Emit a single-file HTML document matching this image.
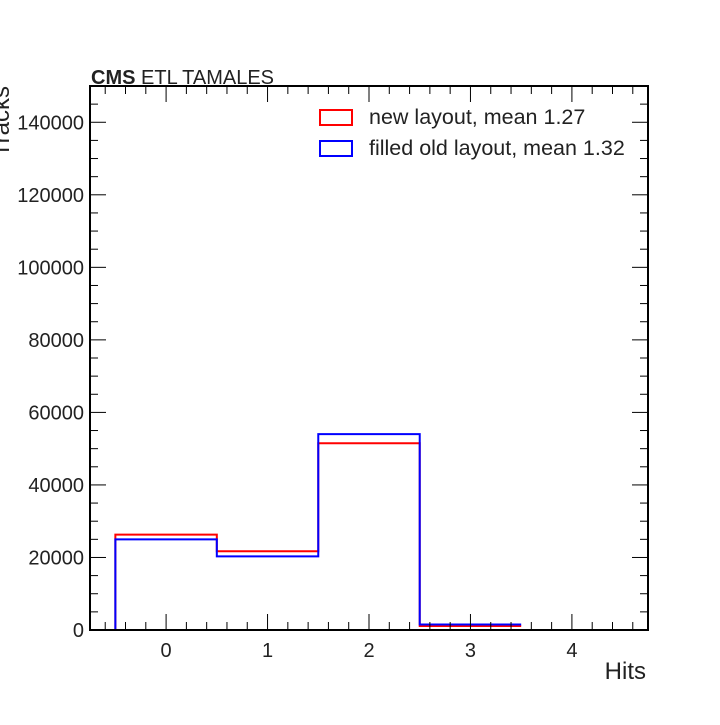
<!DOCTYPE html>
<html><head><meta charset="utf-8"><style>
body{margin:0;background:#fff;width:720px;height:720px;overflow:hidden;font-family:"Liberation Sans",sans-serif}
</style></head><body>
<svg id="chart" width="720" height="720" xmlns="http://www.w3.org/2000/svg" font-family="Liberation Sans, sans-serif">
</svg>
<script>
const binCenters=[0,1,2,3,4];
const redVals=[26300,21700,51500,1100,0];
const blueVals=[25000,20300,54000,1500,0];
const xTicks=[0,1,2,3,4];
const yTicks=[0,20000,40000,60000,80000,100000,120000,140000];
const L=90,R=648,T=86,B=630;
const xmin=-0.75,xmax=4.75,ymin=0,ymax=150000;
const X=v=>L+(v-xmin)/(xmax-xmin)*(R-L);
const Y=v=>B-(v-ymin)/(ymax-ymin)*(B-T);
const svg=document.getElementById('chart');
const NS='http://www.w3.org/2000/svg';
function mk(tag,attrs,parent){const e=document.createElementNS(NS,tag);for(const k in attrs)e.setAttribute(k,attrs[k]);(parent||svg).appendChild(e);return e;}
function step(vals,color,name){
  let d='';
  let started=false;
  binCenters.forEach((c,i)=>{
    if(vals[i]<=0&&i===binCenters.length-1)return;
    const x0=X(c-0.5),x1=X(c+0.5),y=Y(vals[i]);
    if(!started){d+=`M${x0},${Y(0)}L${x0},${y}`;started=true;}else d+=`L${x0},${y}`;
    d+=`L${x1},${y}`;
  });
  const p=mk('path',{d:d,fill:'none',stroke:color,'stroke-width':2});
  
  
}
step(redVals,'#ff0000','series-new-layout');
step(blueVals,'#0000ff','series-filled-old-layout');
const fr=mk('rect',{x:L,y:T,width:R-L,height:B-T,fill:'none',stroke:'#000','stroke-width':2});


for(let v=-0.6;v<=4.7;v+=0.2){
  const vv=Math.round(v*10)/10;
  const major=Math.abs(vv-Math.round(vv))<1e-6;
  const len=major?16:8;
  const x=X(vv);
  mk('line',{x1:x,x2:x,y1:B,y2:B-len,stroke:'#000','stroke-width':1});
  mk('line',{x1:x,x2:x,y1:T,y2:T+len,stroke:'#000','stroke-width':1});
}
xTicks.forEach(v=>{
  const t=mk('text',{x:X(v),y:B+27,'text-anchor':'middle','font-size':20,fill:'#222'});
  t.textContent=v;
  
  
});
for(let v=0;v<=150000;v+=5000){
  const major=v%20000===0;
  const len=major?16:8;
  const y=Y(v);
  mk('line',{x1:L,x2:L+len,y1:y,y2:y,stroke:'#000','stroke-width':1});
  mk('line',{x1:R,x2:R-len,y1:y,y2:y,stroke:'#000','stroke-width':1});
}
yTicks.forEach(v=>{
  const t=mk('text',{x:L-6,y:Y(v)+7,'text-anchor':'end','font-size':20,fill:'#222'});
  t.textContent=v;
  
  
});
let t=mk('text',{x:646,y:679,'text-anchor':'end','font-size':24,fill:'#222'});
t.textContent='Hits';


t=mk('text',{x:0,y:0,'text-anchor':'end','font-size':24,fill:'#222',transform:'translate(9,86) rotate(-90)'});
t.textContent='Tracks';


t=mk('text',{x:91,y:84,'font-size':20,fill:'#222'});
t.innerHTML='<tspan font-weight="bold">CMS</tspan> ETL TAMALES';


const leg=[['#ff0000','new layout, mean 1.27',117],['#0000ff','filled old layout, mean 1.32',148]];
leg.forEach(([c,label,y])=>{
  const r=mk('rect',{x:320,y:y-7,width:32,height:15,fill:'none',stroke:c,'stroke-width':2});
  
  
  const tx=mk('text',{x:369,y:y+7,'font-size':21.5,fill:'#222'});
  tx.textContent=label;
  
  
});
</script>
</body></html>
